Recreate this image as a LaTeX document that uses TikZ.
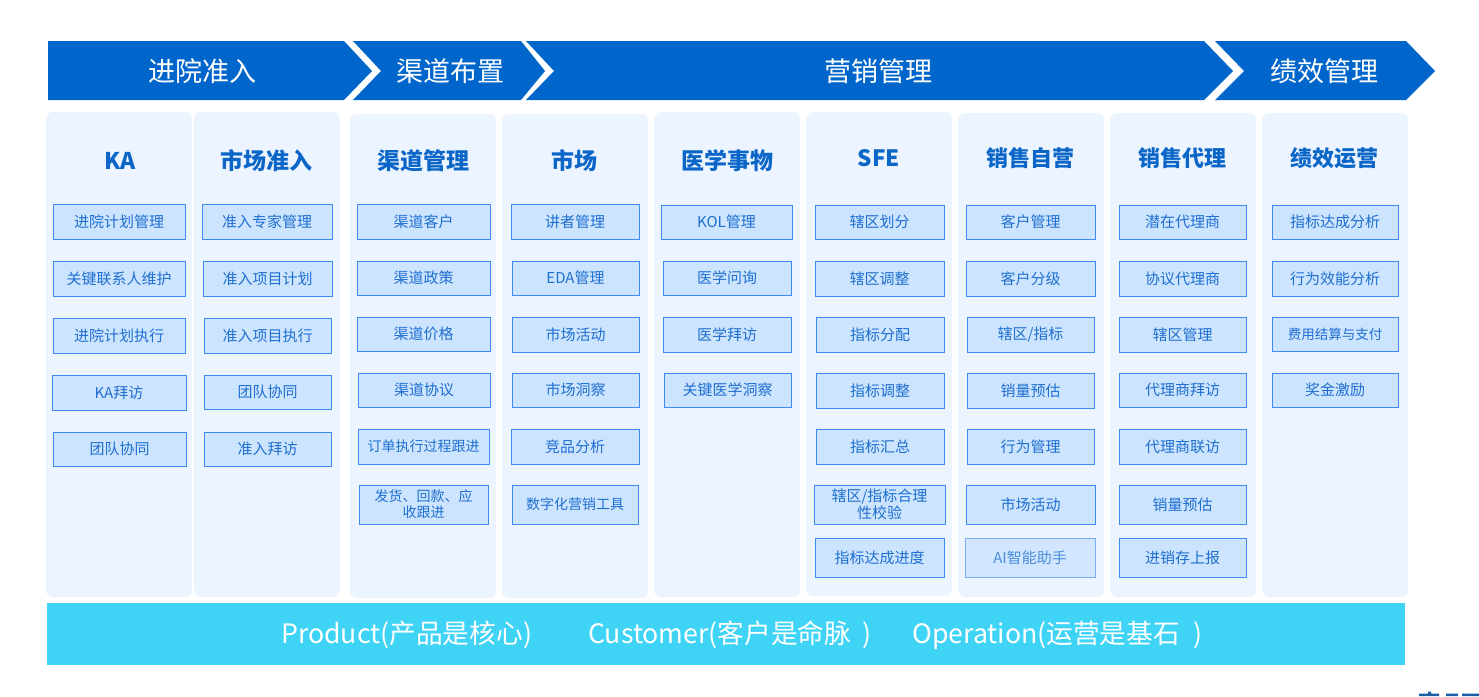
\documentclass[tikz,border=0pt]{standalone}
\usepackage{fontspec}
\setmainfont{Noto Sans CJK SC}
\tikzset{
  chev/.style={fill=chevblue,draw=none},
  chevtext/.style={text=white,font=\fontsize{27}{27}\selectfont,inner sep=0pt},
  panel/.style={fill=panelblue,draw=none,rounded corners=7pt},
  headtext/.style={text=headblue,font=\fontsize{#1}{23}\selectfont\bfseries,inner sep=0pt},
  itembox/.style={fill=boxblue,draw=boxedge,line width=1pt,text=itemblue,inner sep=0pt,align=center,font=\fontsize{15}{18}\selectfont},
  bartext/.style={text=white,font=\fontsize{26.7}{27}\selectfont,inner sep=0pt,anchor=west}
}
\definecolor{chevblue}{HTML}{0066CC}
\definecolor{panelblue}{HTML}{ECF5FF}
\definecolor{headblue}{HTML}{0B66C8}
\definecolor{boxblue}{HTML}{CDE4FF}
\definecolor{boxedge}{HTML}{3D8BF0}
\definecolor{itemblue}{HTML}{1E6FD0}
\definecolor{barcyan}{HTML}{3FD3F6}
\definecolor{cutblue}{HTML}{1A5FA8}
\newcommand{\itemrect}[6]{%
  \node[itembox,minimum width=#3pt-#1pt,minimum height=#4pt-#2pt,#5] at ({(#1+#3)/2},{(#2+#4)/2}) {#6};}
\begin{document}
\begin{tikzpicture}[x=1pt,y=-1pt]
\useasboundingbox (0,0) rectangle (1479,696);
\fill[chev] (48,41)--(344,41)--(372,71)--(344,100)--(48,100)--cycle;
\fill[chev] (353,41)--(521,41)--(545,71)--(521,100)--(353,100)--(381,71)--cycle;
\fill[chev] (526,41)--(1204,41)--(1233,71)--(1204,100)--(526,100)--(554,71)--cycle;
\fill[chev] (1215,41)--(1406,41)--(1435,71)--(1406,100)--(1215,100)--(1244,71)--cycle;
\node[chevtext] (jinyuan) at (202.5,71) {进院准入};
\node[chevtext] (qudao) at (450,71) {渠道布置};
\node[chevtext] (yingxiao) at (878.5,71) {营销管理};
\node[chevtext] (jixiao) at (1324.5,71) {绩效管理};
\foreach \xa/\ya/\yb/\hx/\hy/\hs/\name/\lab in {46/112/597/74/160.5/23/ka/KA,194/112/597/72.5/160.5/23/access/市场准入,350/114/598/73.5/160.5/23/channel/渠道管理,502/114/598/72.5/160.5/23/market/市场,654/112/597/73/160.5/23/medical/医学事物,806/112/596/73/158.5/22.5/sfe/SFE,958/113/597/72.5/158.5/22/self/销售自营,1110/113/597/72.5/158.5/22/agent/销售代理,1262/113/597/72.5/158.5/22/perf/绩效运营}{
  \fill[panel] (\xa,\ya) rectangle (\xa+146,\yb);
  \node[headtext=\hs] (\name) at (\xa+\hx,\hy) {\lab};
}
\foreach \xa/\ya/\xb/\yb/\lab in {53/204/185/239/进院计划管理,53/261/185/296/关键联系人维护,53/318/185/353/进院计划执行,52/375/186/410/KA拜访,53/432/186/466/团队协同,
  202/204/332/239/准入专家管理,203/261/332/296/准入项目计划,204/318/331/353/准入项目执行,204/375/331/409/团队协同,204/432/331/466/准入拜访,
  357/204/490/239/渠道客户,357/261/490/295/渠道政策,357/317/490/351/渠道价格,358/373/490/407/渠道协议,
  511/204/639/239/讲者管理,512/261/639/295/EDA管理,512/317/639/352/市场活动,512/373/639/407/市场洞察,511/429/639/464/竞品分析,
  661/205/792/239/KOL管理,663/261/791/295/医学问询,663/317/791/352/医学拜访,664/373/791/407/关键医学洞察,
  815/205/944/239/辖区划分,815/261/944/296/辖区调整,816/317/944/352/指标分配,816/373/944/408/指标调整,816/429/944/464/指标汇总,815/538/944/577/指标达成进度,
  966/205/1095/239/客户管理,966/261/1095/296/客户分级,967/373/1094/408/销量预估,967/429/1094/464/行为管理,966/485/1095/524/市场活动,
  1119/205/1246/239/潜在代理商,1119/261/1246/296/协议代理商,1119/317/1246/352/辖区管理,1119/373/1246/407/代理商拜访,1119/429/1246/464/代理商联访,1119/485/1246/524/销量预估,1119/538/1246/577/进销存上报,
  1272/205/1398/239/指标达成分析,1272/261/1398/296/行为效能分析,1272/373/1398/407/奖金激励}{
  \itemrect{\xa}{\ya}{\xb}{\yb}{}{\lab}
}
\itemrect{967}{317}{1094}{352}{}{辖区/指标}
\itemrect{358}{429}{489}{464}{font=\fontsize{14}{17}\selectfont}{订单执行过程跟进}
\itemrect{359}{485}{488}{524}{font=\fontsize{14}{16}\selectfont}{发货、回款、应\\收跟进}
\itemrect{512}{485}{638}{524}{font=\fontsize{14}{17}\selectfont}{数字化营销工具}
\itemrect{814}{485}{945}{524}{font=\fontsize{15}{17}\selectfont}{辖区/指标合理\\性校验}
\itemrect{965}{538}{1095}{577}{draw=boxedge!70,fill=boxblue!90,text=itemblue!80}{AI智能助手}
\itemrect{1272}{317}{1398}{351}{font=\fontsize{13.5}{17}\selectfont}{费用结算与支付}
\fill[barcyan] (47,603) rectangle (1405,665);
\node[bartext] (product) at (281,635) {Product(产品是核心)};
\node[bartext] (customer) at (588,635) {Customer(客户是命脉\hspace{11pt})};
\node[bartext] (operation) at (912,635) {Operation(运营是基石\hspace{13pt})};
\fill[cutblue] (1419,693.5) rectangle (1439,696) (1428,691.5) rectangle (1431,693.5) (1446,693.5) rectangle (1458,696) (1462,693.5) rectangle (1479,696);
\end{tikzpicture}
\end{document}
